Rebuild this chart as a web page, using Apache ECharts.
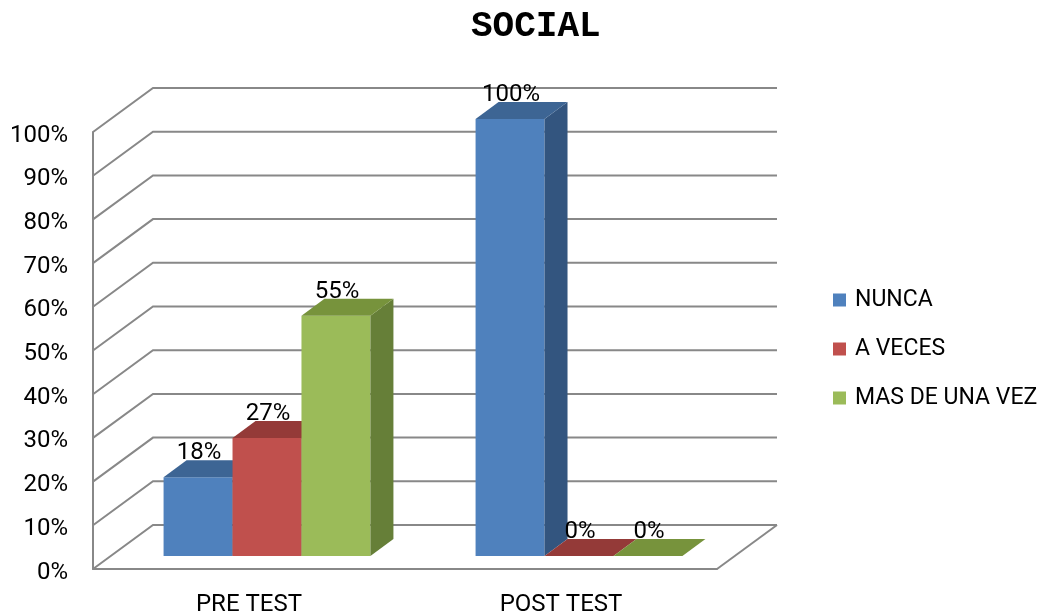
<!DOCTYPE html>
<html>
<head>
<meta charset="utf-8">
<script src="https://cdn.jsdelivr.net/npm/echarts@6/dist/echarts.min.js"></script>
<style>
  html, body { margin: 0; padding: 0; background: #fff; }
  #chart { width: 1044px; height: 614px; }
</style>
</head>
<body>
<div id="chart"></div>
<script>
const categories = ['PRE TEST', 'POST TEST']
const seriesNames = ['NUNCA', 'A VECES', 'MAS DE UNA VEZ']
const nunca = [0.18, 1.0]
const aVeces = [0.27, 0]
const masDeUnaVez = [0.55, 0]
const yTicks = [0, 0.1, 0.2, 0.3, 0.4, 0.5, 0.6, 0.7, 0.8, 0.9, 1.0]

// 3d look: wall depth, bar plane offset and bar depth (px)
const WALL_DX = 60, WALL_DY = -44
const BAR_DX = 18, BAR_DY = -13
const DEPTH_DX = 23, DEPTH_DY = -17
const LINE = '#888888'

const faces = [
  { front: '#4F81BD', side: '#33557f', top: '#3d6594' },
  { front: '#C0504D', side: '#8b3735', top: '#943a38' },
  { front: '#9BBB59', side: '#667f38', top: '#77933c' },
]

const font = 'Roboto'

function wallRender(params, api) {
  const cs = params.coordSys
  const left = cs.x
  const right = cs.x + cs.width
  const y = api.coord([0, api.value(1)])[1]
  const children = [{
    type: 'polyline',
    shape: { points: [[left, y], [left + WALL_DX, y + WALL_DY], [right + WALL_DX, y + WALL_DY]] },
    style: { stroke: LINE, lineWidth: 2, fill: null },
  }]
  if (api.value(1) === 0) {
    children.push({
      type: 'line',
      shape: { x1: right, y1: y, x2: right + WALL_DX, y2: y + WALL_DY },
      style: { stroke: LINE, lineWidth: 2 },
    })
  }
  return { type: 'group', children }
}

function barRender(idx) {
  return function (params, api) {
    const cat = api.value(0)
    const v = api.value(1)
    const base = api.coord([cat, 0])
    const top = api.coord([cat, v])
    const bw = api.size([1, 0])[0] * 0.221
    const x0 = base[0] + (idx - 1.5) * bw + BAR_DX
    const x1 = x0 + bw
    const yb = base[1] + BAR_DY
    const yt = top[1] + BAR_DY
    const c = faces[idx]
    return {
      type: 'group',
      children: [
        {
          type: 'rect',
          shape: { x: x0, y: yt, width: bw, height: yb - yt },
          style: { fill: c.front },
        },
        {
          type: 'polygon',
          shape: { points: [[x1, yt], [x1, yb], [x1 + DEPTH_DX, yb + DEPTH_DY], [x1 + DEPTH_DX, yt + DEPTH_DY]] },
          style: { fill: c.side },
        },
        {
          type: 'polygon',
          shape: { points: [[x0, yt], [x1, yt], [x1 + DEPTH_DX, yt + DEPTH_DY], [x0 + DEPTH_DX, yt + DEPTH_DY]] },
          style: { fill: c.top },
        },
        {
          type: 'text',
          style: {
            text: Math.round(v * 100) + '%',
            x: (x0 + x1) / 2 + 1,
            y: yt + DEPTH_DY - 7,
            align: 'center',
            verticalAlign: 'middle',
            fontSize: 24,
            fontFamily: font,
            fill: '#000',
          },
        },
      ],
    }
  }
}

const values = [nunca, aVeces, masDeUnaVez]

const chart = echarts.init(document.getElementById('chart'))
chart.setOption({
  animation: false,
  title: {
    text: 'SOCIAL',
    left: 466,
    top: 4,
    textStyle: { fontFamily: 'Liberation Mono', fontWeight: 'bold', fontSize: 36, color: '#000' },
  },
  legend: {
    data: seriesNames,
    orient: 'vertical',
    left: 833,
    top: 288,
    padding: 0,
    icon: 'rect',
    itemWidth: 13,
    itemHeight: 13,
    itemGap: 25,
    textStyle: { fontFamily: font, fontSize: 23, color: '#000', lineHeight: 24, padding: [0, 0, 0, 4] },
  },
  grid: { left: 93, right: 327, top: 132, bottom: 45, outerBoundsMode: 'none', containLabel: false },
  xAxis: {
    type: 'category',
    data: categories,
    axisLine: { lineStyle: { color: LINE, width: 2 } },
    axisTick: { show: false },
    axisLabel: { fontFamily: font, fontSize: 24, color: '#000', margin: 24 },
  },
  yAxis: {
    type: 'value',
    min: 0,
    max: 1,
    interval: 0.1,
    axisLine: { show: true, lineStyle: { color: LINE, width: 2 } },
    axisTick: { show: false },
    splitLine: { show: false },
    axisLabel: {
      color: '#000',
      margin: 25,
      formatter: v => '{p|' + Math.round(v * 100) + '%}',
      rich: {
        p: { fontFamily: font, fontSize: 24, color: '#000', padding: [7, 0, 0, 0] },
      },
    },
  },
  series: [
    {
      type: 'custom',
      name: 'walls',
      z: 1,
      silent: true,
      renderItem: wallRender,
      data: yTicks.map(v => [0, v]),
    },
  ].concat(seriesNames.map((name, i) => ({
    type: 'custom',
    name,
    z: 2 + i,
    itemStyle: { color: faces[i].front },
    renderItem: barRender(i),
    data: values[i].map((v, j) => [j, v]),
  }))),
})
</script>
</body>
</html>
